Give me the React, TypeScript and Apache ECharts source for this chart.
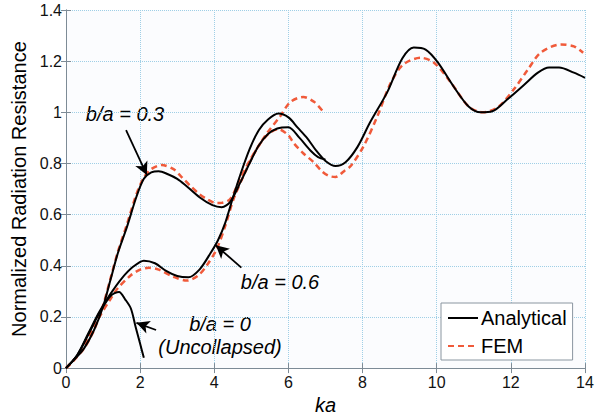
import React, { useEffect, useRef } from "react";
import * as echarts from "echarts";

// ---------- data ----------
const xTicks = [0, 2, 4, 6, 8, 10, 12, 14];
const yTicks = [0, 0.2, 0.4, 0.6, 0.8, 1, 1.2, 1.4];

// Analytical, b/a = 0 (uncollapsed)
const kaA0 = [0, 0.3, 0.6, 0.9, 1.2, 1.43, 1.6, 1.75, 1.88, 2.0, 2.1];
const rA0 = [0, 0.05, 0.13, 0.215, 0.282, 0.298, 0.268, 0.233, 0.16, 0.095, 0.04];

// Analytical, b/a = 0.3
const kaA03 = [0, 0.3, 0.5, 0.76, 1.0, 1.2, 1.4, 1.64, 1.9, 2.1, 2.3, 2.5, 2.75, 3.0, 3.2, 3.6, 3.95, 4.2, 4.43, 4.7, 4.95, 5.2, 5.45, 5.7, 6.0, 6.3, 6.6, 6.8, 7.0];
const rA03 = [0, 0.045, 0.08, 0.15, 0.24, 0.345, 0.45, 0.55, 0.67, 0.74, 0.765, 0.77, 0.758, 0.74, 0.718, 0.668, 0.637, 0.629, 0.65, 0.725, 0.8, 0.87, 0.915, 0.937, 0.942, 0.9, 0.85, 0.825, 0.815];

// Analytical, b/a = 0.6
const kaA06 = [0, 0.3, 0.6, 0.9, 1.2, 1.5, 1.8, 2.1, 2.4, 2.7, 3.0, 3.3, 3.6, 3.9, 4.1, 4.3, 4.5, 4.7, 4.95, 5.2, 5.45, 5.73, 6.0, 6.25, 6.5, 6.75, 7.0, 7.27, 7.54, 7.86, 8.2, 8.67, 9.07, 9.38, 9.7, 10.03, 10.46, 10.86, 11.19, 11.5, 11.9, 12.36, 12.73, 13.03, 13.3, 13.7, 14.0];
const rA06 = [0, 0.05, 0.135, 0.22, 0.29, 0.35, 0.395, 0.42, 0.41, 0.38, 0.36, 0.355, 0.385, 0.45, 0.5, 0.57, 0.665, 0.755, 0.855, 0.93, 0.972, 0.995, 0.98, 0.94, 0.9, 0.85, 0.81, 0.79, 0.805, 0.864, 0.96, 1.08, 1.21, 1.253, 1.245, 1.195, 1.1, 1.023, 1.0, 1.004, 1.05, 1.108, 1.155, 1.175, 1.175, 1.155, 1.135];

// FEM, b/a = 0.3
const kaF03 = [0, 0.3, 0.5, 0.76, 1.0, 1.2, 1.4, 1.64, 1.9, 2.1, 2.3, 2.58, 2.9, 3.1, 3.35, 3.6, 3.8, 4.05, 4.2, 4.43, 4.7, 4.97, 5.2, 5.43, 5.78, 6.05, 6.4, 6.7, 6.95];
const rF03 = [0, 0.045, 0.08, 0.15, 0.245, 0.35, 0.455, 0.56, 0.68, 0.745, 0.778, 0.794, 0.778, 0.75, 0.713, 0.68, 0.661, 0.645, 0.646, 0.661, 0.74, 0.815, 0.87, 0.92, 0.985, 1.04, 1.06, 1.04, 1.0];

// FEM, b/a = 0.6
const kaF06 = [0, 0.3, 0.6, 0.9, 1.2, 1.39, 1.75, 2.0, 2.24, 2.5, 2.9, 3.26, 3.55, 3.8, 4.07, 4.3, 4.52, 4.79, 5.06, 5.3, 5.5, 5.73, 6.0, 6.14, 6.4, 6.68, 6.9, 7.08, 7.27, 7.5, 7.68, 8.03, 8.4, 8.76, 9.1, 9.57, 9.92, 10.38, 10.86, 11.24, 11.65, 12.08, 12.46, 12.8, 13.35, 13.7, 13.95];
const rF06 = [0, 0.045, 0.12, 0.2, 0.27, 0.311, 0.363, 0.385, 0.392, 0.385, 0.357, 0.342, 0.36, 0.402, 0.467, 0.558, 0.661, 0.752, 0.835, 0.89, 0.92, 0.934, 0.91, 0.88, 0.84, 0.805, 0.77, 0.752, 0.747, 0.77, 0.79, 0.868, 0.985, 1.115, 1.187, 1.213, 1.195, 1.117, 1.023, 1.0, 1.02, 1.09, 1.167, 1.233, 1.265, 1.258, 1.233];

// Annotation arrows (tail -> tip), in data coordinates
const arrow03 = [[1.62, 0.93], [2.18, 0.755]];
const arrow06 = [[4.73, 0.393], [4.04, 0.48]];
const arrow0 = [[2.43, 0.149], [1.9, 0.177]];

const zip = (xs: number[], ys: number[]) => xs.map((x, i) => [x, ys[i]]);

const FONT = '"Liberation Sans", Arial, Helvetica, sans-serif';
const BLACK = "#000000";
const RED = "#f05a3a";
const AXIS = "#7d8b96";
const GRIDC = "#9fcfe6";

export default function App() {
  const ref = useRef<HTMLDivElement>(null);

  useEffect(() => {
    if (!ref.current) return;
    const chart = echarts.init(ref.current, undefined, { renderer: "svg" });

    const analyticalStyle = { color: BLACK, width: 2, type: "solid" as const };
    const femStyle = { color: RED, width: 2.5, type: [6, 4] as any };

    const axisCommon = {
      type: "value" as const,
      axisLine: { show: true, lineStyle: { color: AXIS, width: 1 } },
      axisTick: { show: true, inside: true, length: 5, lineStyle: { color: AXIS } },
    };

    const option: any = {
      animation: false,
      backgroundColor: "#ffffff",
      grid: {
        left: 66,
        right: 24,
        top: 10,
        bottom: 50,
        show: true,
        backgroundColor: "#fbfcfe",
        borderWidth: 0,
      },
      legend: {
        data: ["Analytical", "FEM"],
        orient: "vertical",
        left: 441,
        top: 303,
        itemWidth: 30,
        itemHeight: 14,
        itemGap: 6,
        padding: [4, 6, 3, 6],
        backgroundColor: "#ffffff",
        borderColor: "#8a96a0",
        borderWidth: 1,
        borderRadius: 0,
        selectedMode: false,
        itemStyle: { opacity: 0, borderWidth: 0 },
        textStyle: { fontFamily: FONT, fontSize: 20, color: "#000", lineHeight: 22, padding: [0, 0, 0, -2] },
      },
      xAxis: [
        {
          ...axisCommon,
          min: 0,
          max: 14,
          interval: 2,
          position: "bottom",
          name: "ka",
          nameLocation: "middle",
          nameGap: 22,
          nameTextStyle: { fontFamily: FONT, fontSize: 20, fontStyle: "italic", color: "#000" },
          axisLabel: {
            fontFamily: FONT,
            fontSize: 16,
            color: "#111",
            margin: 6,
            formatter: (v: number) => (xTicks.includes(v) ? String(v) : ""),
          },
          splitLine: { show: true, lineStyle: { color: GRIDC, type: "dotted", width: 1 } },
        },
        {
          ...axisCommon,
          min: 0,
          max: 14,
          interval: 2,
          position: "top",
          axisLabel: { show: false },
          splitLine: { show: false },
        },
      ],
      yAxis: [
        {
          ...axisCommon,
          min: 0,
          max: 1.4,
          interval: 0.2,
          position: "left",
          name: "Normalized Radiation Resistance",
          nameLocation: "middle",
          nameGap: 31,
          nameTextStyle: { fontFamily: FONT, fontSize: 20, color: "#000" },
          axisLabel: {
            fontFamily: FONT,
            fontSize: 16,
            color: "#111",
            margin: 4,
            formatter: (v: number) => {
              const t = yTicks.find((k) => Math.abs(k - v) < 1e-6);
              return t === undefined ? "" : String(t);
            },
          },
          splitLine: { show: true, lineStyle: { color: GRIDC, type: "dotted", width: 1 } },
        },
        {
          ...axisCommon,
          min: 0,
          max: 1.4,
          interval: 0.2,
          position: "right",
          axisLabel: { show: false },
          splitLine: { show: false },
        },
      ],
      series: [
        {
          name: "Analytical",
          type: "line",
          data: zip(kaA06, rA06),
          symbol: "none",
          smooth: 0.3,
          lineStyle: analyticalStyle,
          itemStyle: { color: BLACK },
          z: 3,
        },
        {
          name: "FEM",
          type: "line",
          data: zip(kaF06, rF06),
          symbol: "none",
          smooth: 0.3,
          lineStyle: femStyle,
          itemStyle: { color: RED },
          z: 2,
        },
        {
          name: "FEM",
          type: "line",
          data: zip(kaF03, rF03),
          symbol: "none",
          smooth: 0.3,
          lineStyle: femStyle,
          itemStyle: { color: RED },
          z: 2,
        },
        {
          name: "Analytical",
          type: "line",
          data: zip(kaA03, rA03),
          symbol: "none",
          smooth: 0.3,
          lineStyle: analyticalStyle,
          itemStyle: { color: BLACK },
          z: 3,
        },
        {
          name: "Analytical",
          type: "line",
          data: zip(kaA0, rA0),
          symbol: "none",
          smooth: 0.3,
          lineStyle: analyticalStyle,
          itemStyle: { color: BLACK },
          z: 3,
          markLine: {
            silent: true,
            symbol: ["none", "arrow"],
            symbolSize: [10, 13],
            label: { show: false },
            lineStyle: { color: BLACK, width: 1.8, type: "solid" },
            emphasis: { disabled: true },
            data: [arrow03, arrow06, arrow0].map((a) => [
              { coord: a[0] },
              { coord: a[1] },
            ]),
          },
        },
      ],
      graphic: [
        {
          type: "text",
          x: 125,
          y: 114,
          style: {
            text: "b/a = 0.3",
            font: `italic 20px ${FONT}`,
            fill: "#000",
            align: "center",
            verticalAlign: "middle",
          },
        },
        {
          type: "text",
          x: 280,
          y: 282,
          style: {
            text: "b/a = 0.6",
            font: `italic 20px ${FONT}`,
            fill: "#000",
            align: "center",
            verticalAlign: "middle",
          },
        },
        {
          type: "text",
          x: 220,
          y: 324,
          style: {
            text: "b/a = 0",
            font: `italic 20px ${FONT}`,
            fill: "#000",
            align: "center",
            verticalAlign: "middle",
          },
        },
        {
          type: "text",
          x: 220,
          y: 347,
          style: {
            text: "(Uncollapsed)",
            font: `italic 20px ${FONT}`,
            fill: "#000",
            align: "center",
            verticalAlign: "middle",
          },
        },
      ],
    };

    chart.setOption(option);
    return () => chart.dispose();
  }, []);

  return (
    <div
      ref={ref}
      style={{ position: "fixed", left: 0, top: 0, width: 609, height: 420, background: "#fff" }}
    />
  );
}
